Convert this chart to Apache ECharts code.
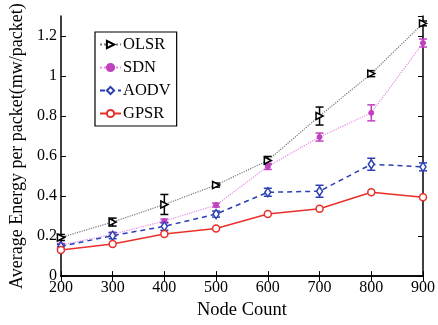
<!DOCTYPE html>
<html><head><meta charset="utf-8">
<script src="https://cdn.jsdelivr.net/npm/echarts@6/dist/echarts.min.js"></script>
<style>html,body{margin:0;padding:0;background:#fff}#c{width:438px;height:325px}</style>
</head><body><div id="c"></div>
<script>
const nodeCounts = [200, 300, 400, 500, 600, 700, 800, 900];
const olsr = [0.193, 0.27, 0.358, 0.455, 0.578, 0.80, 1.012, 1.263];
const olsrErr = [0.015, 0.02, 0.05, 0.01, 0.02, 0.045, 0.015, 0.012];
const sdn = [0.155, 0.209, 0.275, 0.355, 0.548, 0.695, 0.816, 1.165];
const sdnErr = [0.008, 0.01, 0.01, 0.01, 0.015, 0.02, 0.04, 0.02];
const aodv = [0.149, 0.202, 0.249, 0.31, 0.419, 0.424, 0.559, 0.546];
const aodvErr = [0.01, 0.015, 0.02, 0.015, 0.02, 0.03, 0.03, 0.02];
const gpsr = [0.13, 0.16, 0.21, 0.238, 0.31, 0.337, 0.419, 0.394];
const xTicks = [200, 300, 400, 500, 600, 700, 800, 900];
const yTicks = [0, 0.2, 0.4, 0.6, 0.8, 1, 1.2];

const F = 'Liberation Serif';
const pts = v => nodeCounts.map((x, i) => [x, v[i]]);
function errSeries(v, e, color) {
  return {
    type: 'custom', silent: true, z: 3,
    data: nodeCounts.map((x, i) => [x, v[i] - e[i], v[i] + e[i]]),
    renderItem: (params, api) => {
      const lo = api.coord([api.value(0), api.value(1)]);
      const hi = api.coord([api.value(0), api.value(2)]);
      const w = 4;
      const st = { stroke: color, lineWidth: 1.5 };
      return { type: 'group', children: [
        { type: 'line', shape: { x1: lo[0], y1: lo[1], x2: hi[0], y2: hi[1] }, style: st },
        { type: 'line', shape: { x1: lo[0]-w, y1: lo[1], x2: lo[0]+w, y2: lo[1] }, style: st },
        { type: 'line', shape: { x1: hi[0]-w, y1: hi[1], x2: hi[0]+w, y2: hi[1] }, style: st }
      ]};
    }
  };
}
const axisCommon = {
  type: 'value',
  axisLine: { show: true, lineStyle: { color: '#000', width: 1.5 } },
  axisTick: { show: true, inside: true, length: 5, lineStyle: { color: '#000' } },
  splitLine: { show: false }
};
const chart = echarts.init(document.getElementById('c'));
chart.setOption({
  animation: false,
  backgroundColor: '#fff',
  grid: { left: 55, right: 11, top: 16, bottom: 39 },
  xAxis: [
    Object.assign({}, axisCommon, { min: 200, max: 900, interval: 100, position: 'bottom',
      name: 'Node Count', nameLocation: 'middle', nameGap: 18,
      nameTextStyle: { fontFamily: F, fontSize: 18.5, color: '#000' },
      axisLabel: { fontFamily: F, fontSize: 16, color: '#000', margin: 4,
        formatter: v => xTicks.includes(v) ? String(v) : '' } }),
    Object.assign({}, axisCommon, { min: 200, max: 900, interval: 100, position: 'top',
      axisLabel: { show: false } })
  ],
  yAxis: [
    Object.assign({}, axisCommon, { min: 0, max: 1.3, interval: 0.2, position: 'left',
      name: 'Average Energy per packet(mw/packet)', nameLocation: 'middle', nameGap: 30,
      nameTextStyle: { fontFamily: F, fontSize: 18, color: '#000' },
      axisLabel: { fontFamily: F, fontSize: 16, color: '#000', margin: 4, showMaxLabel: false,
        formatter: v => yTicks.some(t => Math.abs(t - v) < 1e-6) ? String(+v.toFixed(1)) : '' } }),
    Object.assign({}, axisCommon, { min: 0, max: 1.3, interval: 0.2, position: 'right',
      axisLabel: { show: false } })
  ],
  legend: {
    orient: 'vertical', left: 95, top: 32,
    backgroundColor: '#fff', borderColor: '#000', borderWidth: 1.2,
    padding: [4, 6, 4, 4], itemGap: 6, itemWidth: 21, itemHeight: 9,
    textStyle: { fontFamily: F, fontSize: 16.5, color: '#000', padding: [0, 0, 0, -3] },
    data: ['OLSR', 'SDN', 'AODV', 'GPSR']
  },
  series: [
    { name: 'OLSR', type: 'line', data: pts(olsr), symbol: 'triangle', symbolRotate: -90, symbolSize: 7,
      lineStyle: { color: '#777', type: 'dotted', width: 1.2 },
      itemStyle: { color: '#fff', borderColor: '#000', borderWidth: 1.5 }, z: 5 },
    { name: 'SDN', type: 'line', data: pts(sdn), symbol: 'circle', symbolSize: 5,
      lineStyle: { color: '#e38be3', type: 'dotted', width: 1.2 },
      itemStyle: { color: '#c040c0', borderColor: '#c040c0', borderWidth: 1 }, z: 4 },
    { name: 'AODV', type: 'line', data: pts(aodv), symbol: 'diamond', symbolSize: [6, 9],
      lineStyle: { color: '#2b3fb5', type: [5, 4], width: 1.5 },
      itemStyle: { color: '#fff', borderColor: '#2b3fb5', borderWidth: 1.5 }, z: 4 },
    { name: 'GPSR', type: 'line', data: pts(gpsr), symbol: 'circle', symbolSize: 7,
      lineStyle: { color: '#e8302a', type: 'solid', width: 1.5 },
      itemStyle: { color: '#fff', borderColor: '#e8302a', borderWidth: 1.5 }, z: 4 },
    errSeries(olsr, olsrErr, '#000'),
    errSeries(sdn, sdnErr, '#c040c0'),
    errSeries(aodv, aodvErr, '#2b3fb5')
  ]
});
</script></body></html>
